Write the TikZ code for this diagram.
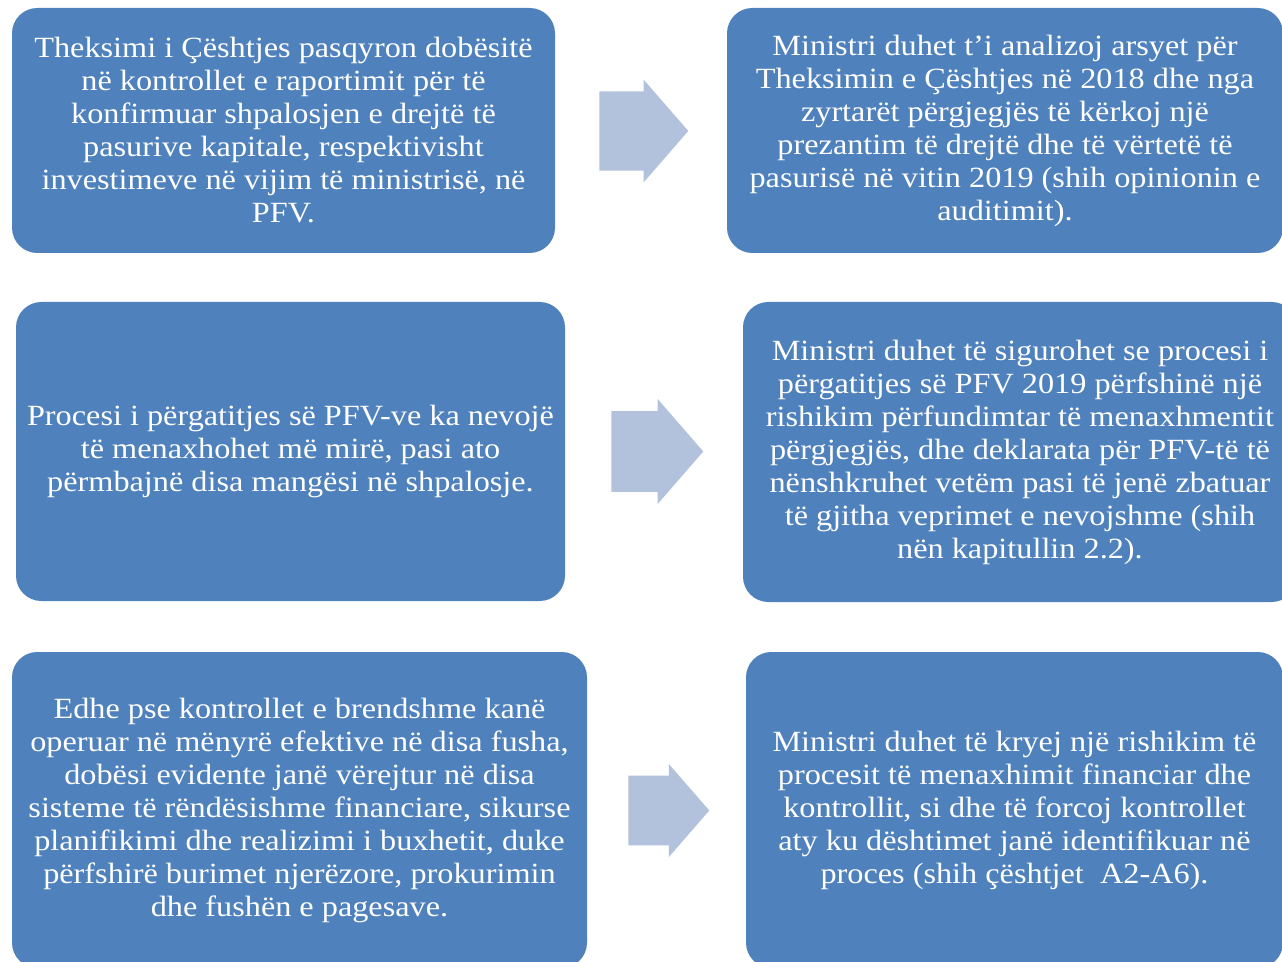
\documentclass[tikz,border=0pt]{standalone}
\usepackage{fontspec}
\setmainfont{Liberation Serif}[FakeStretch=1.10]
\usetikzlibrary{shapes.arrows}
\definecolor{boxblue}{HTML}{4F81BD}
\definecolor{arrowblue}{HTML}{B2C1DC}
\tikzset{
  infobox/.style={fill=boxblue, draw=none, rounded corners=19pt, text=white,
    align=center, inner sep=0pt, font=\fontsize{22}{24.75}\selectfont},
  blockarrow/.style={single arrow, fill=arrowblue, draw=none, anchor=tail,
    inner xsep=0pt, single arrow tip angle=98}
}
\begin{document}
\begin{tikzpicture}[x=0.75pt,y=-0.75pt]
\clip (0,0) rectangle (1282,962);
\fill[white] (0,0) rectangle (1282,962);

\node[infobox, minimum width=543*0.75pt, minimum height=245*0.75pt] (b1) at (283.5,130.5)
{Theksimi i Çështjes pasqyron dobësitë\\
në kontrollet e raportimit për të\\
konfirmuar shpalosjen e drejtë të\\
pasurive kapitale, respektivisht\\
investimeve në vijim të ministrisë, në\\
PFV.};

\node[infobox, minimum width=556*0.75pt, minimum height=245*0.75pt] (b2) at (1005,130.5)
{Ministri duhet t'i analizoj arsyet për\\
Theksimin e Çështjes në 2018 dhe nga\\
zyrtarët përgjegjës të kërkoj një\\
prezantim të drejtë dhe të vërtetë të\\
pasurisë në vitin 2019 (shih opinionin e\\
auditimit).};

\node[infobox, minimum width=549*0.75pt, minimum height=299*0.75pt] (b3) at (290.5,451.5)
{Procesi i përgatitjes së PFV-ve ka nevojë\\
të menaxhohet më mirë, pasi ato\\
përmbajnë disa mangësi në shpalosje.};

\node[infobox, minimum width=554*0.75pt, minimum height=300*0.75pt] (b4) at (1020,452)
{Ministri duhet të sigurohet se procesi i\\
përgatitjes së PFV 2019 përfshinë një\\
rishikim përfundimtar të menaxhmentit\\
përgjegjës, dhe deklarata për PFV-të të\\
nënshkruhet vetëm pasi të jenë zbatuar\\
të gjitha veprimet e nevojshme (shih\\
nën kapitullin 2.2).};

\node[infobox, minimum width=575*0.75pt, minimum height=316*0.75pt] (b5) at (299.5,810)
{Edhe pse kontrollet e brendshme kanë\\
operuar në mënyrë efektive në disa fusha,\\
dobësi evidente janë vërejtur në disa\\
sisteme të rëndësishme financiare, sikurse\\
planifikimi dhe realizimi i buxhetit, duke\\
përfshirë burimet njerëzore, prokurimin\\
dhe fushën e pagesave.};

\node[infobox, minimum width=537*0.75pt, minimum height=316*0.75pt] (b6) at (1014.5,810)
{Ministri duhet të kryej një rishikim të\\
procesit të menaxhimit financiar dhe\\
kontrollit, si dhe të forcoj kontrollet\\
aty ku dështimet janë identifikuar në\\
proces (shih çështjet \ A2-A6).};

\node[blockarrow, minimum height=89*0.75pt, minimum width=103*0.75pt, inner ysep=31*0.75pt] (a1) at (599,131) {};
\node[blockarrow, minimum height=92*0.75pt, minimum width=105*0.75pt, inner ysep=31.5*0.75pt] (a2) at (611,451.5) {};
\node[blockarrow, minimum height=81*0.75pt, minimum width=93*0.75pt, inner ysep=28*0.75pt] (a3) at (628,810.5) {};
\end{tikzpicture}
\end{document}
